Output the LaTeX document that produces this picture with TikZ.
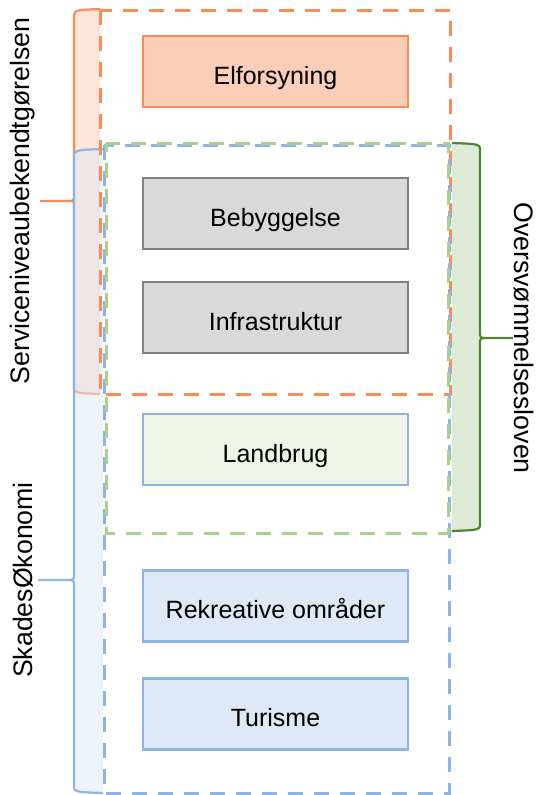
\documentclass[tikz,border=0pt]{standalone}
\usepackage{fontspec}
\setmainfont{Liberation Sans}
\definecolor{oline}{RGB}{250,138,88}
\definecolor{ofill}{RGB}{252,205,184}
\definecolor{obfill}{RGB}{253,228,216}
\definecolor{bline}{RGB}{141,180,226}
\definecolor{bfill}{RGB}{222,232,246}
\definecolor{gline}{RGB}{169,209,142}
\definecolor{gdark}{RGB}{84,130,53}
\definecolor{gbfill}{RGB}{221,235,214}
\definecolor{grfill}{RGB}{217,217,217}
\definecolor{grline}{RGB}{128,128,128}
\definecolor{lgfill}{RGB}{238,245,232}
\tikzset{
  box/.style={draw, line width=2.2pt, minimum width=265pt, minimum height=71pt, inner sep=0pt,
    text height=25pt, text depth=0pt, font=\fontsize{25}{30}\selectfont},
  obox/.style={box, draw=oline, fill=ofill},
  gbox/.style={box, draw=grline, fill=grfill},
  lbox/.style={box, draw=bline, fill=lgfill},
  bbox/.style={box, draw=bline, fill=bfill},
  dashrect/.style={line width=3pt, dash pattern=on 15pt off 11pt},
  bracelabel/.style={font=\fontsize{26.7}{32}\selectfont, inner sep=0pt}
}
\begin{document}
\begin{tikzpicture}[x=1pt,y=-1pt]
\useasboundingbox (0,0) rectangle (541,795);
% orange brace
\fill[obfill] (100,9) .. controls (74,10) .. (74,18) -- (74,195) .. controls (74,201) .. (66,201) -- (40,201) -- (66,201) .. controls (74,201) .. (74,207) -- (74,386) .. controls (74,393) .. (100,394) -- cycle;
\draw[oline, line width=2.2pt] (100,9) .. controls (74,10) .. (74,18) -- (74,195) .. controls (74,201) .. (66,201) -- (40,201) (66,201) .. controls (74,201) .. (74,207) -- (74,386) .. controls (74,393) .. (100,394);
% blue brace
\fill[bfill, opacity=0.5] (103,149) .. controls (74,150) .. (74,158) -- (74,574) .. controls (74,580) .. (66,580) -- (38,580) -- (66,580) .. controls (74,580) .. (74,586) -- (74,785) .. controls (74,792) .. (103,793) -- cycle;
\draw[bline, line width=2.2pt] (103,149) .. controls (74,150) .. (74,158) -- (74,574) .. controls (74,580) .. (66,580) -- (38,580) (66,580) .. controls (74,580) .. (74,586) -- (74,785) .. controls (74,792) .. (103,793);
% green brace
\fill[gbfill] (452,143) .. controls (480,144) .. (480,151) -- (480,332) .. controls (480,338) .. (488,338) -- (513,338) -- (488,338) .. controls (480,338) .. (480,344) -- (480,523) .. controls (480,530) .. (452,531) -- cycle;
\draw[gdark, line width=2.2pt] (452,143) .. controls (480,144) .. (480,151) -- (480,332) .. controls (480,338) .. (488,338) -- (513,338) (488,338) .. controls (480,338) .. (480,344) -- (480,523) .. controls (480,530) .. (452,531);
% dashed group frames
\draw[dashrect, oline] (100,10) rectangle (450,394);
\draw[dashrect, bline] (104,145) rectangle (449,793);
\draw[dashrect, gline, dash phase=6pt] (106,143) rectangle (448,533);
% boxes
\node[obox] (elf) at (275.5,71.5) {Elforsyning};
\node[gbox] (beb) at (275.5,213.5) {Bebyggelse};
\node[gbox] (inf) at (275.5,317.5) {Infrastruktur};
\node[lbox] (lan) at (275.5,449.5) {Landbrug};
\node[bbox] (rek) at (275.5,606) {Rekreative områder};
\node[bbox] (tur) at (275.5,714) {Turisme};
% labels
\node[bracelabel, rotate=90] (serv) at (23,201) {Serviceniveaubekendtgørelsen};
\node[bracelabel, rotate=90] (skad) at (23,580) {SkadesØkonomi};
\node[bracelabel, rotate=-90] (over) at (524,338) {Oversvømmelsesloven};
\end{tikzpicture}
\end{document}
